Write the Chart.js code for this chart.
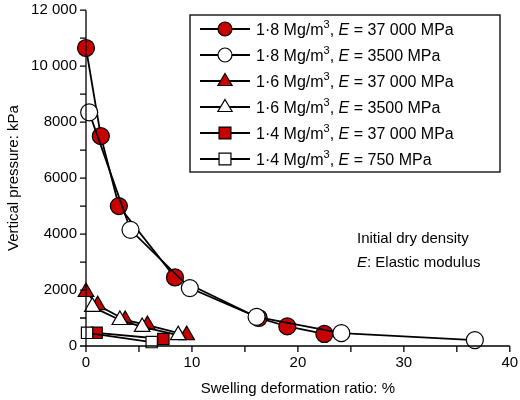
<!DOCTYPE html>
<html>
<head>
<meta charset="utf-8">
<script src="https://cdn.jsdelivr.net/npm/chart.js@4/dist/chart.umd.min.js"></script>
<style>
  body { margin: 0; background: #fff; }
  #wrap { width: 520px; height: 400px; }
</style>
</head>
<body>
<div id="wrap"><canvas id="grafica"></canvas></div>
<script>
const RED = "#c80000";

// series: [deformation %, vertical pressure kPa]
const circleRed   = [[0, 10650], [1.4, 7500], [3.1, 5000], [8.4, 2450], [16.3, 1000], [19, 700], [22.5, 430]];
const circleWhite = [[0.3, 8350], [4.2, 4150], [9.8, 2070], [16.1, 1040], [24.1, 460], [36.7, 210]];
const triRed      = [[0, 1930], [1.1, 1460], [3.7, 930], [5.8, 750], [9.5, 390]];
const triWhite    = [[0.6, 1400], [3.2, 930], [5.3, 680], [8.7, 390]];
const sqRed       = [[1.0, 470], [7.3, 250]];
const sqWhite     = [[0.1, 470], [6.2, 140]];

const density = ["1·8", "1·8", "1·6", "1·6", "1·4", "1·4"];
const modulus = ["37 000", "3500", "37 000", "3500", "37 000", "750"];
const xTicks = [0, 10, 20, 30, 40];
const yTicks = [0, 2000, 4000, 6000, 8000, 10000, 12000];

const series = [
    { data: circleRed,   style: "circle",   fill: RED,    r: 8.5 },
    { data: circleWhite, style: "circle",   fill: "#fff", r: 8.5 },
    { data: triRed,      style: "triangle", fill: RED,    r: 9 },
    { data: triWhite,    style: "triangle", fill: "#fff", r: 9 },
    { data: sqRed,       style: "rect",     fill: RED,    r: 8 },
    { data: sqWhite,     style: "rect",     fill: "#fff", r: 8 }
];

const F = "'Liberation Sans', Arial, sans-serif";

function fmt(v) {
    return v >= 10000 ? String(v).replace(/(\d)(?=(\d{3})+$)/g, "$1 ") : String(v);
}

function drawMarker(c, style, x, y, r, fill) {
    c.save();
    c.fillStyle = fill;
    c.strokeStyle = "#000";
    c.lineWidth = 1.2;
    c.beginPath();
    if (style === "circle") c.arc(x, y, r, 0, Math.PI * 2);
    else if (style === "rect") c.rect(x - r * 0.85, y - r * 0.85, r * 1.7, r * 1.7);
    else {
        c.moveTo(x, y - r);
        c.lineTo(x + r * 0.95, y + r * 0.6);
        c.lineTo(x - r * 0.95, y + r * 0.6);
        c.closePath();
    }
    c.fill();
    c.stroke();
    c.restore();
}

// axes, ticks, legend and note
const extras = {
    id: "extras",
    afterDraw(chart) {
        const c = chart.ctx, xs = chart.scales.x, ys = chart.scales.y;
        const x0 = xs.left, y0 = ys.bottom;
        c.save();
        c.strokeStyle = "#000";
        c.lineWidth = 1.3;
        c.beginPath();
        c.moveTo(x0, ys.top); c.lineTo(x0, y0); c.lineTo(xs.right, y0);
        for (let v = 0; v <= 40; v += 5) {
            const px = xs.getPixelForValue(v);
            c.moveTo(px, y0); c.lineTo(px, y0 + 6);
        }
        for (let v = 0; v <= 12000; v += 1000) {
            const py = ys.getPixelForValue(v);
            c.moveTo(x0, py); c.lineTo(x0 - 6, py);
        }
        c.stroke();

        c.fillStyle = "#000";
        c.font = "15px " + F;
        c.textAlign = "center"; c.textBaseline = "top";
        xTicks.forEach(v => c.fillText(String(v), xs.getPixelForValue(v), y0 + 9));
        c.textAlign = "right"; c.textBaseline = "middle";
        yTicks.forEach(v => c.fillText(fmt(v), x0 - 9, ys.getPixelForValue(v)));

        c.textAlign = "center"; c.textBaseline = "alphabetic";
        c.fillText("Swelling deformation ratio: %", (xs.left + xs.right) / 2, 393);
        c.save();
        c.translate(14, (ys.top + ys.bottom) / 2);
        c.rotate(-Math.PI / 2);
        c.textBaseline = "middle";
        c.fillText("Vertical pressure: kPa", 0, 0);
        c.restore();

        // note
        c.textAlign = "left";
        c.fillText("Initial dry density", 357, 243);
        c.font = "italic 15px " + F;
        c.fillText("E", 357, 267);
        const ew = c.measureText("E").width;
        c.font = "15px " + F;
        c.fillText(": Elastic modulus", 357 + ew, 267);

        // legend
        c.lineWidth = 1.3;
        c.strokeRect(190, 15, 310, 157);
        series.forEach((s, i) => {
            const ly = 29 + i * 26;
            c.beginPath();
            c.moveTo(200, ly); c.lineTo(250, ly);
            c.lineWidth = 1.8;
            c.stroke();
            drawMarker(c, s.style, 225, ly, s.style === "triangle" ? 7.5 : 7, s.fill);
            let tx = 256;
            const base = ly + 6;
            c.font = "16px " + F;
            const t1 = density[i] + " Mg/m";
            c.fillText(t1, tx, base); tx += c.measureText(t1).width;
            c.font = "11px " + F;
            c.fillText("3", tx, base - 7); tx += c.measureText("3").width;
            c.font = "16px " + F;
            c.fillText(", ", tx, base); tx += c.measureText(", ").width;
            c.font = "italic 16px " + F;
            c.fillText("E", tx, base); tx += c.measureText("E").width;
            c.font = "16px " + F;
            c.fillText(" = " + modulus[i] + " MPa", tx, base);
        });
        c.restore();
    }
};

new Chart(document.getElementById("grafica"), {
    type: "line",
    data: {
        datasets: series.map((s, i) => ({
            data: s.data.map(p => ({ x: p[0], y: p[1] })),
            borderColor: "#000",
            borderWidth: 1.8,
            pointStyle: s.style,
            pointRadius: s.r,
            pointHoverRadius: s.r,
            pointBackgroundColor: s.fill,
            pointBorderColor: "#000",
            pointBorderWidth: 1.2,
            order: s.fill === RED ? 2 : 1,
            clip: false
        }))
    },
    options: {
        responsive: true,
        maintainAspectRatio: false,
        animation: false,
        layout: { padding: { left: 86, right: 10, top: 10, bottom: 54 } },
        plugins: { legend: { display: false }, tooltip: { enabled: false } },
        scales: {
            x: { type: "linear", min: 0, max: 40, display: false },
            y: { type: "linear", min: 0, max: 12000, display: false }
        }
    },
    plugins: [extras]
});
</script>
</body>
</html>
